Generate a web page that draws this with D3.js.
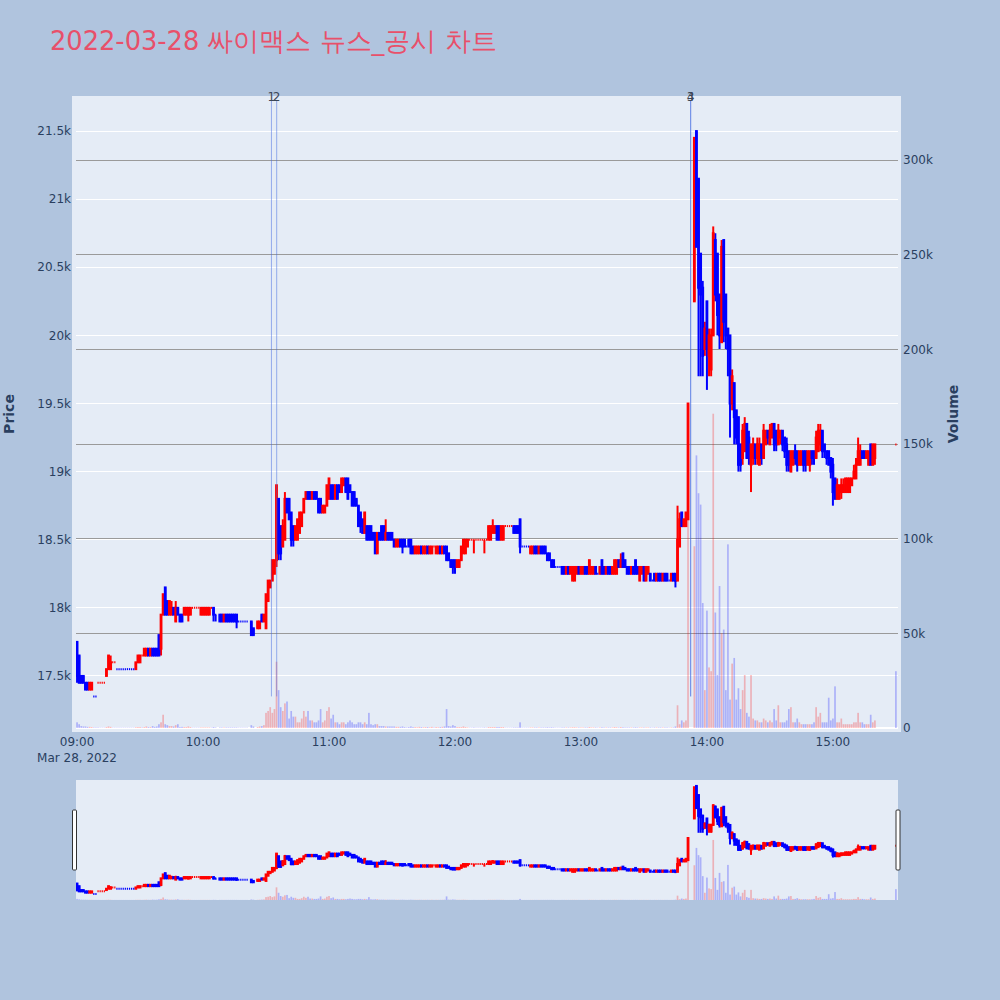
<!DOCTYPE html>
<html><head><meta charset="utf-8">
<script src="https://cdn.jsdelivr.net/npm/d3@7"></script>
<style>body{margin:0;background:#b0c4de;}svg{display:block}</style>
</head><body>
<svg id="c" width="1000" height="1000"></svg>
<script>
const times = [
"09:00","09:01","09:02","09:03","09:04","09:05","09:06","09:07","09:08","09:09",
"09:10","09:11","09:12","09:13","09:14","09:15","09:16","09:17","09:18","09:19",
"09:20","09:21","09:22","09:23","09:24","09:25","09:26","09:27","09:28","09:29",
"09:30","09:31","09:32","09:33","09:34","09:35","09:36","09:37","09:38","09:39",
"09:40","09:41","09:42","09:43","09:44","09:45","09:46","09:47","09:48","09:49",
"09:50","09:51","09:52","09:53","09:54","09:55","09:56","09:57","09:58","09:59",
"10:00","10:01","10:02","10:03","10:04","10:05","10:06",
"10:08","10:09","10:10","10:11","10:12","10:13","10:14","10:15","10:16","10:17","10:18","10:19","10:20","10:21",
"10:23","10:24",
"10:26","10:27","10:28","10:29","10:30","10:31","10:32","10:33","10:34","10:35","10:36","10:37","10:38","10:39",
"10:40","10:41","10:42","10:43","10:44","10:45","10:46","10:47","10:48","10:49",
"10:50","10:51","10:52","10:53","10:54","10:55","10:56","10:57","10:58","10:59",
"11:00","11:01","11:02","11:03","11:04","11:05","11:06","11:07","11:08","11:09",
"11:10","11:11","11:12","11:13","11:14","11:15","11:16","11:17","11:18","11:19",
"11:20","11:21","11:22","11:23","11:24","11:25","11:26","11:27","11:28","11:29",
"11:30","11:31","11:32","11:33","11:34","11:35","11:36","11:37","11:38","11:39",
"11:40","11:41","11:42","11:43","11:44","11:45","11:46","11:47","11:48","11:49",
"11:50","11:51","11:52","11:53","11:54","11:55","11:56","11:57","11:58","11:59",
"12:00","12:01","12:02","12:03","12:04","12:05","12:06","12:07","12:08","12:09",
"12:10","12:11","12:12","12:13","12:14","12:15","12:16","12:17","12:18","12:19",
"12:20","12:21","12:22","12:23","12:24","12:25","12:26","12:27","12:28","12:29",
"12:30","12:31","12:32","12:33","12:34","12:35","12:36","12:37","12:38","12:39",
"12:40","12:41","12:42","12:43","12:44","12:45","12:46","12:47","12:48","12:49",
"12:50","12:51","12:52","12:53","12:54","12:55","12:56","12:57","12:58","12:59",
"13:00","13:01","13:02","13:03","13:04","13:05","13:06","13:07","13:08","13:09",
"13:10","13:11","13:12","13:13","13:14","13:15","13:16","13:17","13:18","13:19",
"13:20","13:21","13:22","13:23","13:24","13:25","13:26","13:27","13:28","13:29",
"13:30","13:31","13:32","13:33","13:34","13:35","13:36","13:37","13:38","13:39",
"13:40","13:41","13:42","13:43","13:44","13:45","13:46","13:47","13:48","13:49",
"13:50","13:51","13:54","13:55","13:56","13:57","13:58","13:59",
"14:00","14:01","14:02","14:03","14:04","14:05","14:06","14:07","14:08","14:09",
"14:10","14:11","14:12","14:13","14:14","14:15","14:16","14:17","14:18","14:19",
"14:20","14:21","14:22","14:23","14:24","14:25","14:26","14:27","14:28","14:29",
"14:30","14:31","14:32","14:33","14:34","14:35","14:36","14:37","14:38","14:39",
"14:40","14:41","14:42","14:43","14:44","14:45","14:46","14:47","14:48","14:49",
"14:50","14:51","14:52","14:53","14:54","14:55","14:56","14:57","14:58","14:59",
"15:00","15:01","15:02","15:03","15:04","15:05","15:06","15:07","15:08","15:09",
"15:10","15:11","15:12","15:13","15:14","15:15","15:16","15:17","15:18","15:19",
"15:20","15:30"];

const opens = [
17750,17650,17500,17500,17450,17450,17400,17400,17350,17350,
17450,17450,17450,17450,17500,17550,17550,17600,17600,17550,
17550,17550,17550,17550,17550,17550,17550,17550,17550,17600,
17600,17650,17650,17650,17700,17650,17700,17700,17700,17800,
17700,17950,18150,18050,17950,17950,18000,17900,18000,17950,
17950,17950,17950,17950,17950,18000,18000,18000,18000,17950,
17950,17950,17950,17950,18000,18000,17950,
17950,17950,17900,17950,17950,17950,17950,17950,17950,17900,17900,17900,17900,17900,
17900,17850,
17850,17850,17950,17900,17850,18050,18150,18200,18250,18350,18800,18600,18450,18500,
18800,18800,18700,18600,18500,18500,18550,18600,18700,18800,
18850,18850,18800,18850,18850,18800,18800,18700,18700,18750,
18800,18900,18900,18800,18900,18900,18850,18900,18950,18950,
18900,18850,18850,18800,18750,18700,18650,18550,18600,18600,
18600,18550,18550,18400,18550,18600,18600,18500,18550,18550,
18550,18500,18450,18450,18500,18500,18500,18450,18500,18500,
18450,18400,18400,18400,18450,18400,18400,18450,18400,18400,
18450,18400,18400,18450,18400,18450,18450,18400,18350,18350,
18350,18300,18300,18350,18400,18400,18450,18500,18500,18500,
18500,18500,18500,18500,18500,18500,18500,18500,18550,18550,
18600,18600,18500,18500,18600,18600,18600,18600,18600,18600,
18600,18650,18450,18450,18450,18450,18400,18400,18450,18450,
18400,18450,18450,18450,18400,18400,18350,18350,18300,18300,
18300,18300,18300,18250,18300,18250,18200,18200,18250,18300,
18250,18250,18300,18300,18250,18250,18250,18300,18250,18250,
18350,18300,18250,18300,18300,18250,18250,18250,18350,18300,
18400,18350,18300,18300,18250,18300,18350,18300,18200,18250,
18300,18200,18250,18250,18200,18250,18200,18250,18250,18200,
18250,18250,18200,18200,18250,18250,18200,18450,18700,18600,
18600,18650,20250,21500,21150,20600,20350,19900,
20250,19850,19750,20000,20700,20600,20300,19950,20700,20300,
20050,20000,19500,19650,19450,19400,19200,19100,19150,19350,
19250,19050,19100,19200,19100,19050,19200,19100,19200,19300,
19200,19250,19350,19300,19200,19250,19300,19250,19200,19150,
19000,19050,19150,19150,19050,19050,19150,19150,19050,19050,
19150,19150,19100,19150,19200,19300,19200,19150,19150,19100,
19050,18950,18800,18800,18850,18850,18850,18850,18850,18900,
18950,18950,19050,19050,19150,19150,19100,19050,19200,19050,
19100,19200];

const highs = [
17750,17650,17500,17500,17450,17450,17450,17450,17350,17350,
17450,17450,17450,17450,17550,17650,17650,17600,17600,17550,
17550,17550,17550,17550,17550,17550,17550,17550,17600,17650,
17650,17650,17700,17700,17700,17700,17700,17700,17700,17800,
17950,18100,18150,18050,18050,18050,18000,18050,18000,17950,
17950,18000,18000,18000,18000,18000,18000,18000,18000,18000,
18000,18000,18000,18000,18000,18000,17950,
17950,17950,17950,17950,17950,17950,17950,17950,17950,17900,17900,17900,17900,17900,
17900,17850,
17900,17900,17950,17950,18100,18200,18200,18350,18350,18900,18800,18600,18650,18850,
18800,18800,18700,18600,18600,18650,18700,18700,18800,18850,
18850,18850,18850,18850,18850,18800,18800,18750,18750,18900,
18950,18900,18900,18900,18900,18900,18950,18950,18950,18950,
18900,18850,18850,18800,18750,18700,18650,18700,18600,18600,
18600,18550,18550,18550,18550,18600,18600,18650,18550,18550,
18550,18500,18500,18500,18500,18500,18500,18450,18500,18500,
18450,18450,18450,18450,18450,18450,18450,18450,18450,18450,
18450,18450,18450,18450,18450,18450,18450,18400,18350,18350,
18350,18350,18350,18450,18500,18500,18500,18500,18500,18500,
18500,18500,18500,18500,18500,18500,18600,18600,18650,18600,
18600,18600,18600,18600,18600,18600,18600,18600,18600,18600,
18600,18650,18450,18450,18450,18450,18450,18450,18450,18450,
18450,18450,18450,18450,18400,18400,18350,18350,18300,18300,
18300,18300,18300,18300,18300,18300,18300,18300,18300,18300,
18300,18300,18300,18300,18350,18300,18300,18300,18250,18300,
18350,18300,18300,18300,18300,18300,18350,18350,18350,18400,
18400,18350,18300,18300,18300,18300,18350,18300,18300,18300,
18300,18300,18300,18250,18200,18250,18250,18250,18250,18250,
18250,18250,18200,18250,18250,18250,18750,18700,18700,18650,
18700,19500,21450,21500,21150,20600,20400,20100,
20250,20050,20050,20800,20750,20600,20300,20700,20700,20300,
20050,20000,19750,19650,19450,19400,19200,19350,19400,19350,
19300,19200,19250,19200,19250,19250,19200,19350,19300,19300,
19350,19350,19350,19300,19350,19300,19300,19250,19250,19150,
19150,19150,19200,19150,19150,19150,19150,19150,19150,19150,
19150,19150,19300,19350,19350,19300,19200,19150,19150,19100,
19100,18950,18950,18900,18950,18950,18950,18950,18950,18950,
19050,19100,19250,19200,19150,19150,19150,19150,19200,19200,
19200,19200];

const lows = [
17450,17450,17450,17450,17400,17400,17400,17400,17350,17350,
17450,17450,17450,17450,17500,17550,17550,17600,17600,17550,
17550,17550,17550,17550,17550,17550,17550,17550,17550,17600,
17600,17650,17650,17650,17650,17650,17650,17650,17650,17650,
17650,17950,17950,17950,17950,17950,17950,17900,17950,17900,
17900,17950,17950,17900,17950,18000,18000,18000,18000,17950,
17950,17950,17950,17950,18000,17900,17900,
17900,17900,17900,17900,17900,17900,17900,17900,17850,17900,17900,17900,17900,17900,
17800,17800,
17850,17850,17900,17900,17850,18050,18150,18200,18250,18300,18350,18350,18450,18500,
18700,18650,18450,18450,18500,18500,18550,18600,18700,18800,
18800,18800,18800,18800,18800,18700,18700,18700,18700,18750,
18800,18800,18800,18800,18800,18850,18850,18900,18850,18800,
18850,18750,18750,18750,18600,18550,18550,18550,18500,18500,
18500,18500,18400,18400,18500,18500,18500,18500,18500,18500,
18500,18450,18450,18450,18450,18400,18450,18450,18450,18400,
18400,18400,18400,18400,18400,18400,18400,18400,18400,18400,
18450,18400,18400,18400,18400,18400,18350,18350,18300,18250,
18250,18300,18300,18350,18400,18400,18450,18500,18500,18400,
18500,18500,18500,18500,18400,18500,18500,18500,18550,18550,
18500,18500,18500,18500,18600,18600,18600,18600,18550,18550,
18550,18400,18450,18450,18450,18450,18400,18400,18400,18400,
18400,18400,18400,18400,18350,18350,18300,18300,18300,18300,
18300,18250,18250,18250,18250,18250,18200,18200,18250,18250,
18250,18250,18250,18250,18250,18250,18250,18250,18250,18250,
18250,18250,18250,18250,18250,18250,18250,18250,18300,18300,
18300,18300,18250,18250,18250,18250,18250,18250,18200,18250,
18200,18200,18250,18200,18200,18200,18200,18200,18200,18200,
18200,18200,18200,18200,18200,18150,18200,18450,18600,18600,
18600,18650,20250,20650,19700,19700,19700,19850,
19600,19700,19700,20000,20250,20000,19900,19950,19950,19900,
19700,19250,19450,19200,19200,19000,19000,19050,19150,19100,
19050,18850,19050,19050,19050,19050,19050,19100,19200,19200,
19200,19250,19150,19150,19200,19200,19150,19100,19000,19000,
19000,19050,19050,19000,19050,19050,19000,19000,19050,19000,
19050,19050,19100,19150,19150,19100,19100,19050,19050,18950,
18750,18800,18800,18800,18800,18850,18850,18850,18850,18900,
18950,18950,19050,19050,19100,19100,19100,19050,19050,19050,
19050,19200];

const closes = [
17500,17450,17450,17450,17400,17400,17450,17450,17350,17350,
17450,17450,17450,17450,17550,17650,17600,17600,17600,17550,
17550,17550,17550,17550,17550,17550,17550,17550,17600,17650,
17650,17650,17700,17700,17650,17700,17650,17650,17650,17650,
17950,18100,17950,17950,18050,18000,17950,18000,17950,17900,
17900,18000,18000,18000,18000,18000,18000,18000,18000,18000,
18000,18000,18000,18000,18000,17950,17950,
17900,17900,17950,17900,17900,17900,17900,17900,17900,17900,17900,17900,17900,17900,
17800,17800,
17900,17900,17900,17950,18100,18200,18200,18350,18350,18900,18400,18400,18600,18800,
18700,18650,18500,18500,18600,18650,18700,18700,18800,18850,
18800,18800,18850,18800,18800,18700,18700,18750,18750,18900,
18950,18800,18800,18900,18800,18850,18950,18950,18850,18800,
18850,18750,18750,18750,18600,18600,18550,18700,18500,18500,
18500,18500,18400,18550,18500,18500,18500,18550,18500,18500,
18500,18450,18500,18500,18450,18450,18450,18450,18450,18400,
18400,18450,18450,18450,18400,18450,18450,18400,18450,18450,
18450,18450,18450,18400,18450,18400,18350,18350,18300,18300,
18300,18350,18350,18450,18500,18500,18500,18500,18500,18500,
18500,18500,18500,18500,18500,18500,18600,18600,18600,18600,
18500,18500,18600,18600,18600,18600,18600,18600,18550,18550,
18550,18450,18450,18450,18450,18450,18450,18450,18400,18400,
18450,18400,18400,18400,18350,18350,18300,18300,18300,18300,
18300,18250,18250,18300,18250,18300,18300,18300,18300,18250,
18300,18300,18250,18250,18350,18300,18300,18250,18250,18300,
18250,18250,18300,18250,18250,18300,18350,18350,18300,18350,
18300,18300,18250,18250,18300,18250,18250,18250,18300,18300,
18200,18300,18300,18200,18200,18200,18250,18200,18200,18250,
18200,18200,18200,18250,18200,18200,18500,18650,18600,18650,
18700,19500,21450,20650,20350,20300,19850,20050,
19900,20000,20000,20750,20300,20150,20000,20650,20100,20000,
19900,19500,19700,19400,19250,19050,19050,19300,19350,19100,
19100,19200,19200,19100,19200,19200,19100,19300,19300,19250,
19300,19350,19200,19200,19300,19300,19200,19150,19050,19050,
19150,19150,19100,19050,19150,19150,19050,19050,19150,19150,
19100,19100,19250,19300,19300,19150,19150,19100,19050,19000,
18850,18800,18900,18900,18900,18900,18950,18950,18950,18950,
19000,19050,19150,19150,19100,19100,19150,19150,19050,19200,
19200,19200];

const volumes = [
3000,2000,1000,800,800,600,600,500,300,300,
300,200,200,200,500,800,600,200,200,200,
200,200,200,200,200,200,200,200,400,500,
500,300,500,800,500,500,1000,600,800,2000,
3000,7000,2000,1500,1000,1000,800,1500,2000,500,
600,500,500,800,500,200,200,200,200,300,
300,300,300,300,200,500,300,
300,300,300,300,300,300,300,300,300,200,200,200,200,200,
1500,800,
500,800,1000,1500,8000,9000,11000,8000,10000,35000,20000,11000,9000,13000,
14000,5000,9000,6000,6000,3000,3000,5000,9000,6000,
9000,4000,4000,3000,3000,4000,10000,3000,4000,9000,
11000,5000,7000,3000,3000,2000,3000,3000,2000,3000,
4000,3000,2000,2000,3000,3000,2000,3000,2000,8000,
2000,1500,2000,2000,1000,1000,1000,800,800,800,
800,800,600,600,600,800,500,300,500,800,
500,500,400,600,500,400,500,500,400,600,
300,500,400,500,600,800,10000,1000,800,1500,
1000,500,500,500,800,500,300,200,200,300,
200,200,200,200,300,200,500,500,500,500,
500,500,500,500,200,200,200,200,300,300,
300,3000,200,200,200,200,300,300,300,300,
300,300,300,300,400,300,400,300,200,200,
200,300,300,300,300,300,400,400,300,300,
300,300,300,300,500,300,300,300,200,300,
400,300,300,300,300,300,500,400,300,500,
400,300,300,300,300,300,400,300,300,300,
300,300,300,300,200,300,300,300,300,300,
300,300,200,300,300,800,12000,2000,4000,3000,
4000,171000,96000,144000,124000,118000,66000,20000,
62000,32000,30000,166000,61000,28000,75000,50000,52000,20000,
97000,15000,34000,37000,15000,21000,10000,20000,28000,8000,
6000,28000,5000,4000,4000,3000,3000,5000,4000,3000,
4000,3000,10000,4000,12000,3000,3000,3000,4000,10000,
11000,3000,3000,5000,3000,2000,2000,2000,2000,2000,
2000,3000,11000,6000,8000,3000,3000,3000,16000,4000,
5000,22000,3000,3000,5000,2000,2000,2000,2000,2000,
3000,3000,8000,3000,3000,2000,2000,2000,7000,3000,
4000,30000];

const priceTicks = [17500,18000,18500,19000,19500,20000,20500,21000,21500];
const volumeTicks = [0,50000,100000,150000,200000,250000,300000];
const hourTicks = ["09:00","10:00","11:00","12:00","13:00","14:00","15:00"];
const newsTimes = ["10:32:35","10:35:05","13:52:15","13:52:15"];
const newsLabels = ["1","2","3","4"];
const dayLow = 17350;

const FONT = "'DejaVu Sans', Verdana, sans-serif";
const INK = "#2a3f5f";
const UP = "#ff0000", DOWN = "#0000ff";
const toDate = t => { const p = t.split(":").map(Number); return new Date(2022, 2, 28, p[0], p[1], p[2] || 0); };

const data = times.map((t, i) => ({t: toDate(t), o: opens[i], h: highs[i], l: lows[i], c: closes[i], v: volumes[i]}));
let pc = null, pd = 1;
data.forEach(d => {
  let dir;
  if (d.c > d.o) dir = 1; else if (d.c < d.o) dir = -1;
  else if (pc !== null && d.c !== pc) dir = d.c > pc ? 1 : -1;
  else dir = pd;
  d.dir = dir; pd = dir; pc = d.c;
});

const svg = d3.select("#c");
const x = d3.scaleTime().domain([new Date(2022,2,28,8,59,30), new Date(2022,2,28,15,31,0)]).range([76, 898]);
const yP = d3.scaleLinear().domain([17118, 21728]).range([728, 100]);
const yV = d3.scaleLinear().domain([0, 331700]).range([728, 100]);
const yPs = yP.copy().range([900, 780]);
const yVs = yV.copy().range([900, 780]);

// title
svg.append("text").attr("x", 50).attr("y", 50).attr("font-family", FONT).attr("font-size", 25.7)
  .attr("fill", "#e8506a").text("2022-03-28 싸이맥스 뉴스_공시 차트");

// plot background
svg.append("rect").attr("x", 72).attr("y", 96).attr("width", 829).attr("height", 636).attr("fill", "#e5ecf6");

// grids
const grid = svg.append("g").attr("shape-rendering", "crispEdges");
grid.selectAll("line.pg").data(priceTicks).join("line").attr("class", "pg")
  .attr("x1", 76).attr("x2", 898).attr("y1", d => yP(d)).attr("y2", d => yP(d))
  .attr("stroke", "#ffffff").attr("stroke-width", 1);
grid.selectAll("line.vg").data(volumeTicks.filter(v => v > 0)).join("line").attr("class", "vg")
  .attr("x1", 76).attr("x2", 898).attr("y1", d => yV(d)).attr("y2", d => yV(d))
  .attr("stroke", "#9a9a9a").attr("stroke-width", 1);
grid.append("line").attr("x1", 76).attr("x2", 898).attr("y1", yV(0)).attr("y2", yV(0))
  .attr("stroke", "#ffffff").attr("stroke-width", 2);

// clips
const defs = svg.append("defs");
defs.append("clipPath").attr("id", "cm").append("rect").attr("x", 76).attr("y", 100).attr("width", 822).attr("height", 628);
defs.append("clipPath").attr("id", "cs").append("rect").attr("x", 76).attr("y", 780).attr("width", 822).attr("height", 120);

function drawTraces(g, yp, yv) {
  const bw = 0.8;
  const col = d => d.dir > 0 ? UP : DOWN;
  const cg = g.append("g");
  const moving = data.filter(d => d.h > d.l || d.o !== d.c);
  const flat = data.filter(d => !(d.h > d.l || d.o !== d.c));
  cg.selectAll("line.w").data(moving.filter(d => d.h > d.l)).join("line").attr("class", "w")
    .attr("x1", d => x(d.t)).attr("x2", d => x(d.t))
    .attr("y1", d => yp(d.h)).attr("y2", d => yp(d.l))
    .attr("stroke", col).attr("stroke-width", 2);
  cg.selectAll("rect").data(moving.filter(d => d.o !== d.c)).join("rect")
    .attr("x", d => x(d.t) - bw / 2).attr("width", bw)
    .attr("y", d => yp(Math.max(d.o, d.c)))
    .attr("height", d => Math.abs(yp(d.o) - yp(d.c)))
    .attr("fill", col).attr("fill-opacity", 0.5)
    .attr("stroke", col).attr("stroke-width", 2);
  cg.selectAll("line.f").data(moving.filter(d => d.o === d.c).concat(flat)).join("line").attr("class", "f")
    .attr("x1", d => x(d.t) - 0.6).attr("x2", d => x(d.t) + 0.6)
    .attr("y1", d => yp(d.c)).attr("y2", d => yp(d.c))
    .attr("stroke", col).attr("stroke-width", 2);
  const vg = g.append("g");
  vg.selectAll("rect").data(data).join("rect")
    .attr("x", d => x(d.t) - 0.84).attr("width", 1.68)
    .attr("y", d => yv(d.v)).attr("height", d => yv(0) - yv(d.v))
    .attr("fill", d => d.c > d.o ? UP : DOWN).attr("fill-opacity", 0.25);
}

const main = svg.append("g").attr("clip-path", "url(#cm)");
drawTraces(main, yP, yV);

// news lines
const news = svg.append("g");
news.selectAll("line").data(newsTimes).join("line")
  .attr("x1", d => x(toDate(d))).attr("x2", d => x(toDate(d)))
  .attr("y1", 100).attr("y2", yP(dayLow))
  .attr("stroke", "rgba(65,105,225,0.5)").attr("stroke-width", 1);
news.selectAll("text").data(newsTimes).join("text")
  .attr("x", d => x(toDate(d))).attr("y", 100.5).attr("text-anchor", "middle")
  .attr("font-family", FONT).attr("font-size", 12).attr("fill", "#3c4656")
  .text((d, i) => newsLabels[i]);

// axes
const fmt = d3.format("~s");
const ax = svg.append("g").attr("font-family", FONT).attr("font-size", 12).attr("fill", INK);
ax.selectAll("text.py").data(priceTicks).join("text").attr("class", "py")
  .attr("x", 71).attr("y", d => yP(d)).attr("dy", "0.35em").attr("text-anchor", "end").text(d => fmt(d));
ax.selectAll("text.vy").data(volumeTicks).join("text").attr("class", "vy")
  .attr("x", 903).attr("y", d => yV(d)).attr("dy", "0.35em").attr("text-anchor", "start").text(d => fmt(d));
ax.selectAll("text.xt").data(hourTicks).join("text").attr("class", "xt")
  .attr("x", d => x(toDate(d))).attr("y", 746).attr("text-anchor", "middle").text(d => d);
ax.append("text").attr("x", x(toDate(hourTicks[0]))).attr("y", 762).attr("text-anchor", "middle").text("Mar 28, 2022");

svg.append("text").attr("transform", "translate(14,414) rotate(-90)").attr("text-anchor", "middle")
  .attr("font-family", FONT).attr("font-size", 14).attr("font-weight", "bold").attr("fill", INK).text("Price");
svg.append("text").attr("transform", "translate(958,414) rotate(-90)").attr("text-anchor", "middle")
  .attr("font-family", FONT).attr("font-size", 14).attr("font-weight", "bold").attr("fill", INK).text("Volume");

// range slider
svg.append("rect").attr("x", 76).attr("y", 780).attr("width", 822).attr("height", 120).attr("fill", "#e5ecf6");
const sl = svg.append("g").attr("clip-path", "url(#cs)");
drawTraces(sl, yPs, yVs);
[74.5, 898].forEach(cx => {
  svg.append("rect").attr("x", cx - 2).attr("y", 810).attr("width", 4).attr("height", 60)
    .attr("rx", 1).attr("fill", "#ffffff").attr("stroke", "#333333").attr("stroke-width", 1);
});
</script>
</body></html>
